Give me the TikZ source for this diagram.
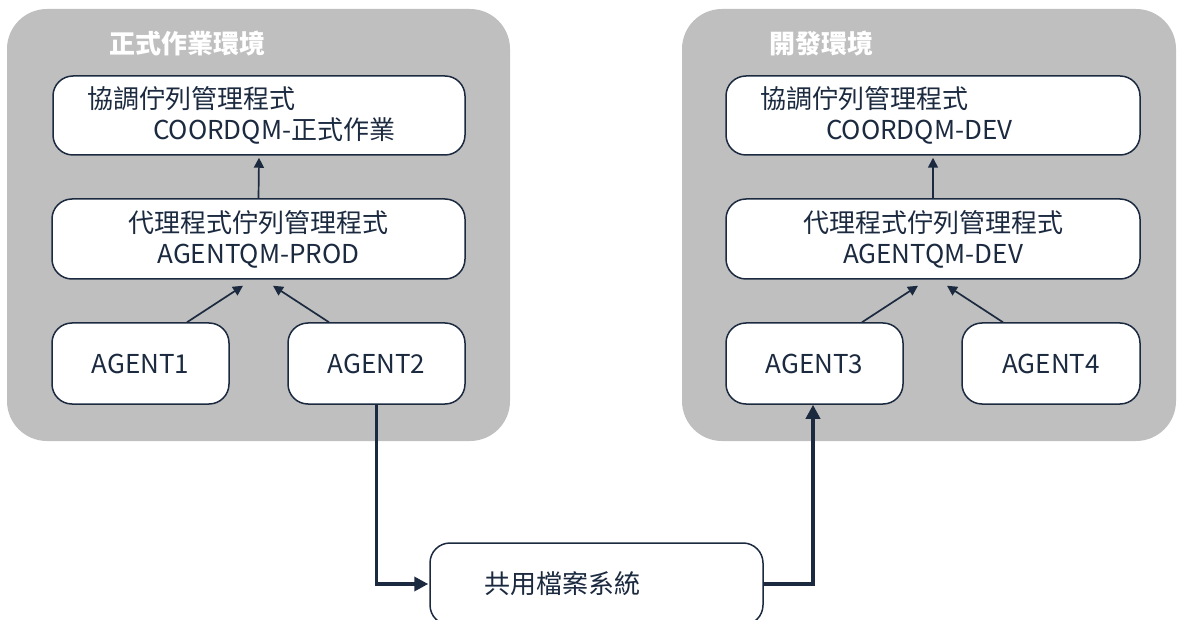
\documentclass[tikz,border=0pt]{standalone}
\usepackage{fontspec}
\setmainfont{Noto Sans CJK TC}
\usetikzlibrary{arrows.meta}
\definecolor{ink}{HTML}{1C2A40}
\definecolor{panel}{HTML}{BFBFBF}
\begin{document}
\begin{tikzpicture}[x=1pt,y=-1pt,
  panelbox/.style={fill=panel, draw=none, rounded corners=40pt, inner sep=0pt},
  paneltitle/.style={anchor=west, text=white, font=\fontsize{26}{30}\selectfont\bfseries, inner sep=0pt},
  box/.style={draw=ink, line width=1.5pt, fill=white, rounded corners=20pt, text=ink,
    font=\fontsize{26}{31}\selectfont, inner sep=0pt},
  lbox/.style={box, align=left, inner xsep=34pt},
  thinarrow/.style={draw=ink, line width=1.7pt, -{Triangle[length=10pt,width=10pt]}},
  thickarrow/.style={draw=ink, line width=3.5pt, -{Triangle[length=14pt,width=14pt]}}]
\useasboundingbox (0,0) rectangle (1184,620);

% panels
\node[panelbox, minimum width=503pt, minimum height=432pt] (prod) at (258.5,225) {};
\node[panelbox, minimum width=494pt, minimum height=432pt] (dev) at (929,225) {};
\node[paneltitle] (prodt) at (109,44) {正式作業環境};
\node[paneltitle] (devt) at (769,44) {開發環境};

% production boxes
\node[lbox, text width=344pt, minimum height=79pt] (coordP) at (259,115.5)
  {協調佇列管理程式\\\hspace*{66pt}COORDQM-正式作業};
\node[box, align=center, minimum width=413pt, minimum height=80pt] (aqmP) at (258.5,239)
  {代理程式佇列管理程式\\AGENTQM-PROD};
\node[box, minimum width=177pt, minimum height=81pt] (a1) at (140.5,363.5) {AGENT1};
\node[box, minimum width=177pt, minimum height=81pt] (a2) at (376.5,363.5) {AGENT2};

% development boxes
\node[lbox, text width=346pt, minimum height=79pt] (coordD) at (933,115.5)
  {協調佇列管理程式\\\hspace*{66pt}COORDQM-DEV};
\node[box, align=center, minimum width=414pt, minimum height=80pt] (aqmD) at (933,239)
  {代理程式佇列管理程式\\AGENTQM-DEV};
\node[box, minimum width=177pt, minimum height=81pt] (a3) at (814.5,363.5) {AGENT3};
\node[box, minimum width=178pt, minimum height=81pt] (a4) at (1051,363.5) {AGENT4};

% shared file system
\node[box, align=left, text width=225pt, inner xsep=54pt, minimum height=82pt] (fs) at (596.5,584) {共用檔案系統};

% arrows
\draw[thinarrow] (aqmP.north) -- ([yshift=-2pt]coordP.south);
\draw[thinarrow] ([xshift=46.5pt]a1.north) -- ([xshift=-15.5pt,yshift=-6pt]aqmP.south);
\draw[thinarrow] ([xshift=-47.5pt]a2.north) -- ([xshift=14.5pt,yshift=-6pt]aqmP.south);
\draw[thinarrow] (aqmD.north) -- ([yshift=-2pt]coordD.south);
\draw[thinarrow] ([xshift=47.5pt]a3.north) -- ([xshift=-15pt,yshift=-6pt]aqmD.south);
\draw[thinarrow] ([xshift=-48pt]a4.north) -- ([xshift=14pt,yshift=-6pt]aqmD.south);

\draw[thickarrow] (a2.south) |- ([xshift=-1pt]fs.west);
\draw[thickarrow] (fs.east) -| ([xshift=-1.5pt]a3.south);
\end{tikzpicture}
\end{document}
